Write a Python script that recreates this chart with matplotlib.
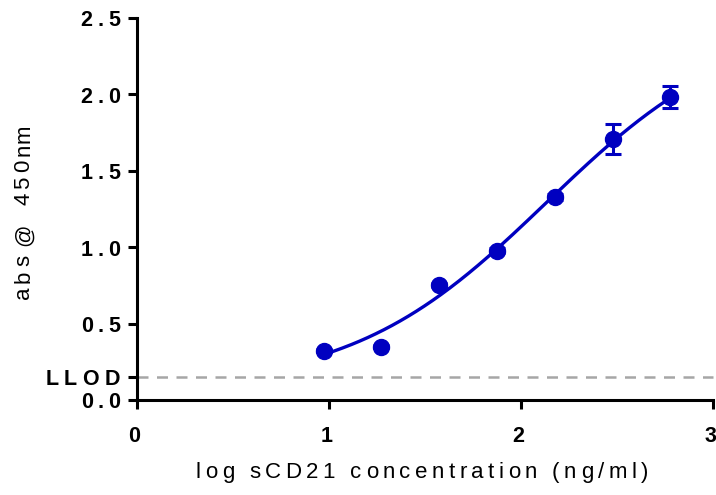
import numpy as np
import matplotlib
matplotlib.use("Agg")
import matplotlib.pyplot as plt
from matplotlib.ft2font import FT2Font
from matplotlib import font_manager
from matplotlib.font_manager import FontProperties

# ---- data ----
log_conc = [0.972, 1.273, 1.574, 1.875, 2.176, 2.477, 2.778]
absorb = [0.322, 0.348, 0.752, 0.978, 1.329, 1.710, 1.982]
absorb_err = [0.01, 0.01, 0.015, 0.015, 0.02, 0.098, 0.072]
llod = 0.152
# 4-parameter logistic fit (bottom, top, logEC50, hill slope)
fit_bottom, fit_top, fit_logec50, fit_hill = 0.0708, 2.5139, 2.1328, 0.8533
x_ticks = [0, 1, 2, 3]
x_tick_labels = ["0", "1", "2", "3"]
y_ticks = [0.0, 0.5, 1.0, 1.5, 2.0, 2.5]
y_tick_labels = ["0.0", "0.5", "1.0", "1.5", "2.0", "2.5"]
llod_label = "LLOD"
x_label = "log sCD21 concentration (ng/ml)"
y_label = "abs @ 450nm"

BLUE = "#0000C0"
GRAY = "#A6A6A6"
W, H, DPI = 716, 495, 100


def f4(x):
    return fit_bottom + (fit_top - fit_bottom) / (1 + 10 ** ((fit_logec50 - x) * fit_hill))


fig = plt.figure(figsize=(W / DPI, H / DPI), dpi=DPI)
L, R, T, B = 137, 713, 18, 400
ax = fig.add_axes([L / W, 1 - B / H, (R - L) / W, (B - T) / H])

xs = np.linspace(log_conc[0], log_conc[-1], 300)
ax.plot(xs, f4(xs), color=BLUE, lw=2.4, zorder=3, solid_capstyle="round")
ax.errorbar(log_conc, absorb, yerr=absorb_err, fmt="o", color=BLUE, ms=11.5,
            capsize=5.6, elinewidth=2.2, capthick=2.2, zorder=4)
ax.axhline(llod, color=GRAY, lw=1.8, dashes=(4.4, 3.4), zorder=2, clip_on=False)

ax.set_xlim(0, 3)
ax.set_ylim(0, 2.5)
for s in ("top", "right"):
    ax.spines[s].set_visible(False)
for s in ("left", "bottom"):
    ax.spines[s].set_linewidth(2.2)
    ax.spines[s].set_capstyle("projecting")
ax.set_xticks(x_ticks)
ax.set_yticks(y_ticks + [llod])
ax.tick_params(length=6.5, width=2.2, labelleft=False, labelbottom=False)

# ---- tracked (letter-spaced) text helper ----
def font_path(weight):
    return font_manager.findfont(FontProperties(family="Liberation Sans", weight=weight))

_fonts = {}
def advances(s, size_pt, weight):
    key = (weight, size_pt)
    if key not in _fonts:
        f = FT2Font(font_path(weight))
        f.set_size(size_pt, DPI)
        _fonts[key] = f
    f = _fonts[key]
    out = []
    for ch in s:
        g = f.load_char(ord(ch))
        out.append(g.linearHoriAdvance / 65536.0)
    return out

def tracked(s, px, py, size_pt, weight="normal", track=5.0, ha="center", rotation=0):
    """px, py in pixel coords from top-left. Anchor = center of text line."""
    adv = advances(s, size_pt, weight)
    total = sum(adv) + track * len(s)
    if ha == "center":
        start = -total / 2
    elif ha == "right":
        start = -total
    else:
        start = 0
    pos = start
    for ch, a in zip(s, adv):
        c = pos + a / 2
        pos += a + track
        if ch == " ":
            continue
        if rotation == 0:
            x, y = px + c, py
        else:
            x, y = px, py - c
        fig.text(x / W, 1 - y / H, ch, fontsize=size_pt, fontweight=weight,
                 family="Liberation Sans", ha="center", va="center_baseline",
                 rotation=rotation, color="black")

TICK_PT = 15.5
LAB_PT = 16

def ypix(v):
    return B - (v - 0) / 2.5 * (B - T)

def xpix(v):
    return L + v / 3 * (R - L)

for v, lab in zip(y_ticks, y_tick_labels):
    tracked(lab, 125, ypix(v) + 0.5, TICK_PT, "bold", 4.8, ha="right")
tracked(llod_label, 125, ypix(llod) + 0.5, TICK_PT, "bold", 5.2, ha="right")
for v, lab in zip(x_ticks, x_tick_labels):
    tracked(lab, xpix(v), 434, TICK_PT, "bold", 4.8, ha="center")

tracked(x_label, 424, 470, LAB_PT, "normal", 4.45, ha="center")
tracked(y_label, 24, 210, LAB_PT, "normal", 3.9, ha="center", rotation=90)

fig.savefig("out.png", dpi=DPI)
